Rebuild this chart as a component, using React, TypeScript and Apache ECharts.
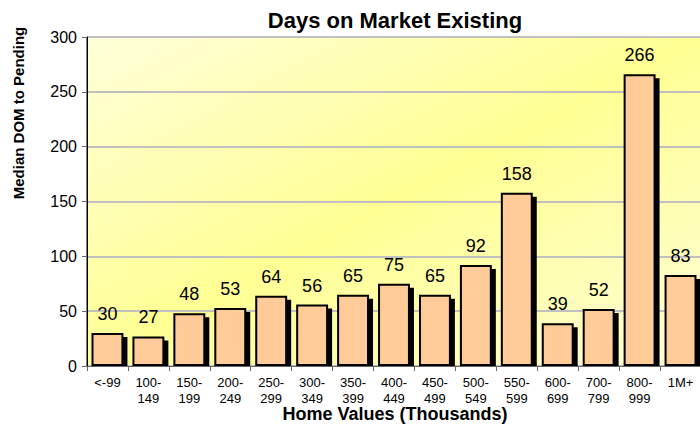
import React, { useEffect, useRef } from "react";
import * as echarts from "echarts";

const categories = [
  "<-99", "100-\n149", "150-\n199", "200-\n249", "250-\n299", "300-\n349",
  "350-\n399", "400-\n449", "450-\n499", "500-\n549", "550-\n599", "600-\n699",
  "700-\n799", "800-\n999", "1M+",
];
const values = [30, 27, 48, 53, 64, 56, 65, 75, 65, 92, 158, 39, 52, 266, 83];
const yTicks = { min: 0, max: 300, interval: 50 };

const FONT = "'Liberation Sans', Arial, sans-serif";
const BAR_RATIO = 0.78;

export default function App() {
  const ref = useRef<HTMLDivElement>(null);
  useEffect(() => {
    if (!ref.current) return;
    document.body.style.margin = "0";
    const chart = echarts.init(ref.current, undefined, { renderer: "svg" });
    chart.setOption({
      animation: false,
      title: {
        text: "Days on Market Existing",
        left: 390,
        top: 4,
        textAlign: "center",
        textStyle: { fontFamily: FONT, fontSize: 22, fontWeight: "bold", color: "#000" },
      },
      graphic: [
        {
          type: "text",
          x: 18,
          y: 113,
          rotation: Math.PI / 2,
          style: {
            text: "Median DOM to Pending",
            fontFamily: FONT,
            fontSize: 15,
            fontWeight: "bold",
            fill: "#000",
            textAlign: "center",
            textVerticalAlign: "middle",
          },
        },
        {
          type: "text",
          x: 395,
          y: 414,
          style: {
            text: "Home Values (Thousands)",
            fontFamily: FONT,
            fontSize: 18,
            fontWeight: "bold",
            fill: "#000",
            textAlign: "center",
            textVerticalAlign: "middle",
          },
        },
      ],
      grid: {
        left: 87,
        top: 37,
        width: 614,
        bottom: 61,
        outerBoundsMode: "none",
        containLabel: false,
        show: true,
        borderColor: "#000",
        borderWidth: 1,
        backgroundColor: {
          type: "linear",
          x: 0, y: 0, x2: 1, y2: 1,
          colorStops: [
            { offset: 0, color: "#FFFFDA" },
            { offset: 0.5, color: "#FFFF94" },
            { offset: 1, color: "#FFFFD6" },
          ],
        },
      },
      xAxis: {
        type: "category",
        data: categories,
        axisLine: { lineStyle: { color: "#666", width: 1 } },
        axisTick: { show: true, length: 5, lineStyle: { color: "#666" } },
        axisLabel: { fontFamily: FONT, fontSize: 13, color: "#000", margin: 8, lineHeight: 16, interval: 0 },
      },
      yAxis: {
        type: "value",
        min: yTicks.min,
        max: yTicks.max,
        interval: yTicks.interval,
        axisLine: { show: true, lineStyle: { color: "#000", width: 1 } },
        axisTick: { show: true, length: 5, lineStyle: { color: "#666" } },
        axisLabel: { fontFamily: FONT, fontSize: 16, color: "#000", margin: 10 },
        splitLine: { lineStyle: { color: "#C0C0C0", width: 2 } },
      },
      series: [
        {
          type: "custom",
          z: 1,
          data: values.map((v, i) => [i, v]),
          renderItem: (params: any, api: any) => {
            const top = api.coord([api.value(0), api.value(1)]);
            const base = api.coord([api.value(0), 0]);
            const bw = api.size([1, 0])[0] * BAR_RATIO;
            return {
              type: "rect",
              shape: { x: top[0] - bw / 2 + 4, y: top[1] + 4, width: bw, height: base[1] - top[1] - 4 },
              style: { fill: "#000" },
            };
          },
          silent: true,
        },
        {
          type: "bar",
          z: 2,
          data: values,
          barWidth: (BAR_RATIO * 100).toFixed(0) + "%",
          itemStyle: { color: "#FFCC99", borderColor: "#000", borderWidth: 2 },
          label: {
            show: true,
            position: "top",
            distance: 10,
            fontFamily: FONT,
            fontSize: 18,
            color: "#000",
          },
        },
      ],
    });
    return () => chart.dispose();
  }, []);
  return <div ref={ref} style={{ width: 700, height: 427 }} />;
}
